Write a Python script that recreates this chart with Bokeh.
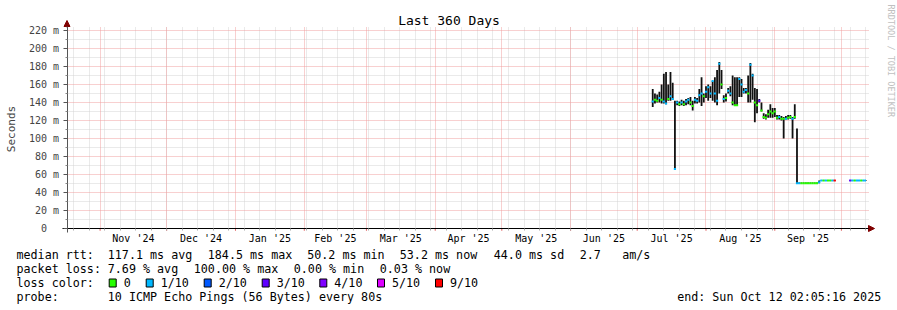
import math
import pandas as pd
from bokeh.plotting import figure
from bokeh.models import (ColumnDataSource, FixedTicker, Grid, Label, BoxAnnotation,
                          Range1d, Arrow, NormalHead)
from bokeh.embed import file_html
from bokeh.resources import INLINE

nan = float("nan")

# ---------------- data ----------------
title_text = "Last 360 Days"
end_time = "2025-10-12 02:05:16"
first_day = "2025-07-08"

median_rtt = [141, 143, 142, 145, 143, 141, 139, 144, 147, 144,
              66, 140, 138, 140, 138, 141, 143, 140, 136, 143,
              142, 148, 150, 147, 152, 157, 150, 164, 150, 142,
              183, 160, 144, 145, 153, 150, 140, 137, 137, 166,
              160, 152, 154, 150, 182, 170, 140, 137, 142, 131,
              124, 123, 127, 130, 128, 130, 123, 124, 122, 122,
              122, 123, 124, 122, 124, 50.4, 50.4, 50.4, 50.4, 50.4,
              50.4, 50.4, 50.4, 50.4, 50.4, 51.5, 53.3, 53.3, 53.3, 53.3,
              53.3, 53.3, 53.3, nan, nan, nan, nan, nan, nan, 53.3,
              53.3, 53.3, 53.3, 53.3, 53.3, 53.3, 53.3]
smoke_hi = [155, 150, 149, 152, 160, 172, 174, 160, 174, 162,
            142, 142, 141, 143, 142, 144, 145, 146, 142, 146,
            145, 155, 168, 150, 158, 160, 158, 164, 168, 176,
            185, 176, 148, 150, 156, 158, 170, 168, 168, 168,
            166, 156, 156, 170, 184, 172, 156, 155, 144, 140,
            128, 127, 132, 138, 134, 134, 126, 126, 125, 124,
            125, 126, 126, 124, 138, 111, 51, 51, 51, 51,
            51, 51, 51, 51, 51, 53.3, 54, 54, 54, 54,
            54, 54, 54, nan, nan, nan, nan, nan, nan, 54,
            54, 54, 54, 54, 54, 54, 54]
smoke_lo = [135, 139, 140, 140, 139, 139, 138, 142, 142, 143,
            66, 137, 136, 137, 136, 137, 138, 137, 131, 139,
            139, 140, 136, 140, 145, 142, 145, 142, 140, 137,
            150, 155, 140, 141, 150, 147, 137, 136, 136, 146,
            146, 150, 150, 140, 140, 143, 118, 128, 140, 130,
            122, 121, 123, 123, 123, 124, 121, 121, 120, 100,
            121, 121, 122, 100, 122, 50.4, 50, 50, 50, 50,
            50, 50, 50, 50, 50, 50.4, 53, 53, 53, 53,
            53, 53, 53, nan, nan, nan, nan, nan, nan, 53,
            53, 53, 53, 53, 53, 53, 53]
loss_level = [1, 0, 0, 1, 0, 1, 1, 0, 1, 1,
              1, 1, 0, 1, 0, 1, 1, 0, 0, 1,
              1, 1, 1, 0, 1, 1, 1, 1, 1, 1,
              1, 0, 1, 0, 1, 1, 0, 0, 0, 1,
              1, 1, 1, 0, 1, 1, 0, 0, 3, 0,
              0, 0, 0, 0, 0, 0, 0, 1, 0, 0,
              1, 0, 0, 1, 0, 1, 1, 0, 0, 0,
              0, 0, 0, 0, 0, 1, 1, 0, 1, 0,
              0, 1, 6, None, None, None, None, None, None, 3,
              1, 0, 1, 1, 0, 1, 1]

loss_labels = ["0", "1/10", "2/10", "3/10", "4/10", "5/10", "9/10"]
loss_colors = ["#26ff00", "#00b8ff", "#0059ff", "#5e00ff", "#7e00ff", "#dd00ff", "#ff0000"]

y_ticks = [0, 20, 40, 60, 80, 100, 120, 140, 160, 180, 200, 220]
y_tick_labels = ["0\u00a0\u00a0", "20 m", "40 m", "60 m", "80 m", "100 m", "120 m",
                 "140 m", "160 m", "180 m", "200 m", "220 m"]
y_minor_ticks = [10, 30, 50, 70, 90, 110, 130, 150, 170, 190, 210]
month_labels = ["Nov '24", "Dec '24", "Jan '25", "Feb '25", "Mar '25", "Apr '25",
                "May '25", "Jun '25", "Jul '25", "Aug '25", "Sep '25"]

stats_rtt = ["median rtt:", "117.1 ms avg", "184.5 ms max", "50.2 ms min",
             "53.2 ms now", "44.0 ms sd", "2.7", "am/s"]
stats_loss = ["packet loss:", "7.69 % avg", "100.00 % max", "0.00 % min", "0.03 % now"]
probe_text = ["probe:", "10 ICMP Echo Pings (56 Bytes) every 80s",
              "end: Sun Oct 12 02:05:16 2025"]

# ---------------- layout constants ----------------
W, H = 897, 310
X0_PX = 66.5          # pixel of the start time
PX_PER_DAY = 2.2194
Y0_PX = 228.0         # pixel of 0 s
PX_PER_MS = 0.9       # pixels per millisecond of rtt
TEXT_DY = -4.5        # baseline correction for canvas labels

END = pd.Timestamp(end_time)
START = END - pd.Timedelta(days=360)
days = pd.date_range(first_day, periods=len(median_rtt), freq="D")
half = pd.Timedelta(hours=12)


def ms(ts):
    return float(pd.Timestamp(ts).value // 10**6)


def px_to_time(px):
    return START + pd.Timedelta(days=(px - X0_PX) / PX_PER_DAY)


x0 = [d - half for d in days]
x1 = [min(d + half, END) for d in days]
colors = [loss_colors[l] if l is not None else "#000000" for l in loss_level]

src = ColumnDataSource(dict(t=list(days), x0=x0, x1=x1, med=median_rtt,
                            hi=smoke_hi, lo=smoke_lo, color=colors))

weeks = pd.date_range("2024-10-20", END, freq="7D")
month_starts = pd.date_range("2024-11-01", END, freq="MS")
mids = [ms(month_starts[i] + (month_starts[i + 1] - month_starts[i]) / 2)
        for i in range(len(month_labels))]
week_ms = [ms(w) for w in weeks]
month_ms = [ms(m) for m in month_starts]

MONO = "DejaVu Sans Mono"

p = figure(width=W, height=H, x_axis_type="datetime", output_backend="svg",
           toolbar_location=None,
           x_range=Range1d(ms(px_to_time(0)), ms(px_to_time(W))),
           y_range=Range1d(-(H - Y0_PX) / PX_PER_MS, Y0_PX / PX_PER_MS),
           min_border=0)
p.outline_line_color = None
p.background_fill_color = "white"
p.border_fill_color = "white"
p.grid.visible = False

t_left = ms(START)
t_right = ms(px_to_time(868))
Y_TOP = 225


def add_grid(dim, ticks, col):
    cross = (0, Y_TOP) if dim == 0 else (t_left, t_right)
    try:
        g = Grid(dimension=dim, ticker=FixedTicker(ticks=ticks), grid_line_color=col,
                 grid_line_dash="1 1", grid_line_width=1, cross_bounds=cross)
        p.add_layout(g)
    except AttributeError:
        n = len(ticks)
        if dim == 0:
            p.segment(x0=ticks, y0=[cross[0]] * n, x1=ticks, y1=[cross[1]] * n,
                      line_color=col, line_dash="1 1", line_width=1)
        else:
            p.segment(x0=[cross[0]] * n, y0=ticks, x1=[cross[1]] * n, y1=ticks,
                      line_color=col, line_dash="1 1", line_width=1)


add_grid(0, week_ms, "#d4d4d4")
add_grid(1, y_minor_ticks, "#d4d4d4")
add_grid(0, month_ms, "#f0a0a0")
add_grid(1, y_ticks[1:], "#f0a0a0")

# x axis (fixed at 0 s)
xa = p.xaxis[0]
xa.fixed_location = 0
xa.bounds = (ms(px_to_time(62)), t_right)
xa.ticker = FixedTicker(ticks=mids, minor_ticks=week_ms)
xa.major_label_overrides = {m: lab for m, lab in zip(mids, month_labels)}
xa.major_tick_out = 0
xa.major_tick_in = 0
xa.minor_tick_out = 2
xa.minor_tick_in = 0
xa.minor_tick_line_color = "#aaaaaa"
xa.axis_line_color = "black"
xa.major_label_text_font = MONO
xa.major_label_text_font_size = "10px"
xa.major_label_text_color = "black"
xa.major_label_standoff = 2

# red month ticks below the time axis
n_m = len(month_ms)
p.segment(x0=month_ms, y0=[0] * n_m, x1=month_ms, y1=[-2.5] * n_m,
          line_color="#e06060", line_width=1)

# y axis (fixed at start time)
ya = p.yaxis[0]
ya.fixed_location = t_left
ya.bounds = (-4, 226)
ya.ticker = FixedTicker(ticks=y_ticks, minor_ticks=y_minor_ticks)
ya.major_label_overrides = {v: lab for v, lab in zip(y_ticks, y_tick_labels)}
ya.major_tick_out = 4
ya.major_tick_in = 0
ya.minor_tick_out = 2
ya.minor_tick_in = 0
ya.axis_line_color = "#555555"
ya.major_tick_line_color = "#555555"
ya.minor_tick_line_color = "#888888"
ya.major_label_text_font = MONO
ya.major_label_text_font_size = "10px"
ya.major_label_standoff = 4
ya.axis_label = "Seconds"
ya.axis_label_text_font = MONO
ya.axis_label_text_font_size = "11px"
ya.axis_label_text_font_style = "normal"
ya.axis_label_standoff = 8

# data: smoke + median coloured by loss
p.segment(x0="t", y0="lo", x1="t", y1="hi", source=src, line_color="#111111", line_width=1.8)
p.segment(x0="x0", y0="med", x1="x1", y1="med", source=src, line_color="color", line_width=2)

# arrows at axis ends
p.add_layout(Arrow(end=NormalHead(size=6, fill_color="#800000", line_color="#800000"),
                   x_start=866, y_start=Y0_PX, x_end=874, y_end=Y0_PX,
                   start_units="canvas", end_units="canvas", line_color="black"))
p.add_layout(Arrow(end=NormalHead(size=6, fill_color="#800000", line_color="#800000"),
                   x_start=X0_PX, y_start=27, x_end=X0_PX, y_end=20,
                   start_units="canvas", end_units="canvas", line_color="#555555"))


def lab(x, y, text, size="11.7px", align="left", color="black", angle=0.0,
        baseline="alphabetic", dy=TEXT_DY):
    p.add_layout(Label(x=x, y=y + dy, x_units="canvas", y_units="canvas", text=text,
                       text_font=MONO, text_font_size=size, text_align=align,
                       text_baseline=baseline, text_color=color, angle=angle))


lab(448.5, 24, title_text, size="13px", align="center")
lab(890, 4, "RRDTOOL / TOBI OETIKER", size="8.5px", color="#c0c0c0",
    angle=-math.pi / 2, baseline="middle", dy=0)

rtt_x = [16, 107.3, 207.3, 306.7, 399.3, 493.3, 579.3, 621.7]
for x, t in zip(rtt_x, stats_rtt):
    lab(x, 258.5, t)
loss_x = [16, 107.3, 193.3, 293.3, 379.3]
for x, t in zip(loss_x, stats_loss):
    lab(x, 272.5, t)
lab(16, 286.5, "loss color:")
lab(16, 300.5, probe_text[0])
lab(107.3, 300.5, probe_text[1])
lab(880.7, 300.5, probe_text[2], align="right")

# loss colour key: square + label
sq_left = [108.7, 145.7, 203.7, 261.7, 319.3, 377.0, 435.0]
for xl, c, l in zip(sq_left, loss_colors, loss_labels):
    p.add_layout(BoxAnnotation(left=xl, right=xl + 7, top=278.5, bottom=286.5,
                               left_units="canvas", right_units="canvas",
                               top_units="canvas", bottom_units="canvas",
                               fill_color=c, fill_alpha=1.0, line_color="black",
                               line_alpha=1.0, line_width=1))
    lab(xl + 14.5, 286.5, l)

open("out.html", "w").write(file_html(p, INLINE))
